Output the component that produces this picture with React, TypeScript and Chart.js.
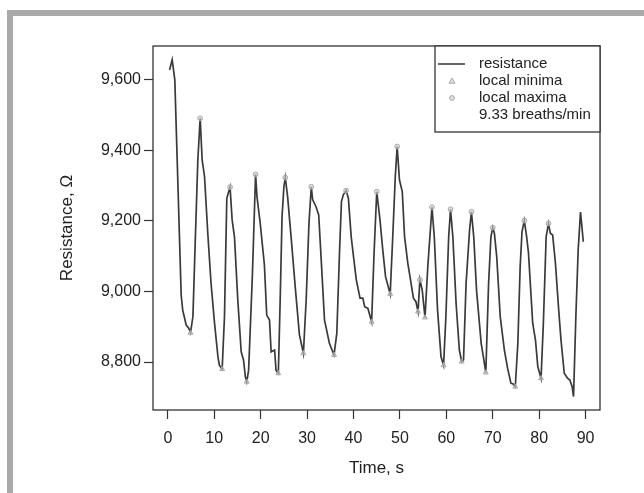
import React, { useEffect, useRef } from "react";
import { Chart, registerables } from "chart.js";

Chart.register(...registerables);

// Time (s) and resistance (Ω) samples
const times: number[] = [
  0.37, 0.93, 1.5, 2.87, 3.2, 3.95, 4.5, 4.88, 5.4, 5.96, 6.46, 6.96, 7.39, 7.9, 8.6, 9.3,
  10.05, 10.8, 11.1, 11.7, 12.2, 12.7, 13.1, 13.4, 13.85, 14.35, 15.07, 15.8, 16.3, 16.7,
  17.0, 17.4, 18.2, 18.9, 19.2, 19.9, 20.8, 21.3, 21.9, 22.25, 23.0, 23.3, 23.8, 24.2, 24.6,
  25.0, 25.3, 25.8, 26.55, 27.5, 28.35, 29.2, 29.8, 30.4, 30.9, 31.2, 31.9, 32.5, 33.0,
  33.75, 34.2, 34.8, 35.8, 36.4, 37.0, 37.4, 37.8, 38.4, 38.9, 39.5, 40.0, 40.6, 41.4, 42.0,
  42.4, 43.1, 43.9, 44.4, 45.0, 45.7, 46.3, 46.9, 47.9, 48.45, 49.0, 49.4, 49.9, 50.5, 51.0,
  51.7, 52.4, 52.9, 53.45, 53.9, 54.3, 54.8, 55.4, 56.0, 56.9, 57.4, 58.1, 58.85, 59.4, 59.9,
  60.5, 60.9, 61.4, 62.1, 62.8, 63.3, 63.7, 64.25, 65.0, 65.4, 65.9, 66.5, 67.5, 68.2, 68.5,
  69.1, 69.6, 70.0, 70.35, 70.85, 71.6, 72.5, 73.2, 73.9, 74.4, 74.85, 75.4, 75.9, 76.3,
  76.8, 77.3, 77.7, 78.6, 79.2, 79.7, 80.4, 80.9, 81.5, 82.0, 82.4, 82.9, 83.5, 84.2, 84.7,
  85.4, 86.1, 86.6, 87.1, 87.4, 87.9, 88.4, 88.9, 89.2, 89.5,
];
const resistance: number[] = [
  9628, 9657, 9600, 8990, 8947, 8905, 8896, 8883, 8929, 9166, 9373, 9491, 9373, 9326, 9166, 9024,
  8911, 8814, 8791, 8780, 8929, 9264, 9283, 9296, 9203, 9155, 8976, 8829, 8806, 8758,
  8744, 8777, 9042, 9332, 9269, 9193, 9075, 8933, 8919, 8829, 8834, 8777, 8768, 8976, 9212,
  9297, 9323, 9269, 9155, 9004, 8877, 8825, 8976, 9193, 9297, 9260, 9241, 9217, 9099,
  8919, 8891, 8853, 8820, 8881, 9118, 9255, 9274, 9286, 9264, 9155, 9099, 9033, 8981, 8981,
  8957, 8952, 8914, 9100, 9283, 9203, 9118, 9042, 8993, 9155, 9326, 9411, 9316, 9283, 9155,
  9080, 9023, 8981, 8971, 8943, 9033, 9004, 8926, 9070, 9239, 9155, 8948, 8815, 8791, 8929,
  9155, 9233, 9155, 8966, 8834, 8801, 8806, 9023, 9174, 9226, 9155, 9004, 8853, 8796, 8770,
  9023, 9155, 9181, 9165, 9099, 8929, 8834, 8782, 8740, 8738, 8730, 8853, 9070, 9170,
  9201, 9155, 9108, 8910, 8862, 8787, 8754, 8910, 9155, 9193, 9165, 9160, 9080, 8948, 8862,
  8768, 8754, 8749, 8730, 8702, 8929, 9118, 9225, 9184, 9141,
];

const minimaTimes: number[] = [4.88, 11.7, 17.0, 23.8, 29.2, 35.8, 43.9, 47.9, 53.9, 55.4, 59.4, 63.3, 68.5, 74.85, 80.4];
const minimaValues: number[] = [8883, 8780, 8744, 8768, 8825, 8820, 8914, 8993, 8943, 8926, 8791, 8801, 8770, 8730, 8754];

const maximaTimes: number[] = [6.96, 13.4, 18.9, 25.3, 30.9, 38.4, 45.0, 49.4, 54.3, 56.9, 60.9, 65.4, 70.0, 76.8, 82.0];
const maximaValues: number[] = [9491, 9296, 9332, 9323, 9297, 9286, 9283, 9411, 9033, 9239, 9233, 9226, 9181, 9201, 9193];

const xTickValues: number[] = [0, 10, 20, 30, 40, 50, 60, 70, 80, 90];
const yTickValues: number[] = [8800, 9000, 9200, 9400, 9600];

const legendLabels: string[] = ["resistance", "local minima", "local maxima", "9.33 breaths/min"];

const FONT = "'Liberation Sans', Arial, Helvetica, sans-serif";
const LINE_COLOR = "#333333";
const MARK_STROKE = "#a8a8a8";
const MARK_FILL = "rgba(205,205,205,0.6)";

const boxPlugin = {
  id: "boxAndLegend",
  afterDraw(chart: any) {
    const { ctx, chartArea } = chart;
    const { left, top, right, bottom } = chartArea;
    ctx.save();
    ctx.strokeStyle = LINE_COLOR;
    ctx.lineWidth = 1.3;
    ctx.strokeRect(left, top, right - left, bottom - top);

    // legend box in top-right corner
    const lw = 165;
    const lh = 86;
    const lx = right - lw;
    const ly = top;
    ctx.fillStyle = "#ffffff";
    ctx.fillRect(lx, ly, lw, lh);
    ctx.strokeRect(lx, ly, lw, lh);

    const rowY = (i: number) => ly + 18 + i * 17;
    const symX = lx + 17;
    const textX = lx + 44;
    // line sample
    ctx.beginPath();
    ctx.strokeStyle = LINE_COLOR;
    ctx.lineWidth = 1.5;
    ctx.moveTo(lx + 3, rowY(0));
    ctx.lineTo(lx + 30, rowY(0));
    ctx.stroke();
    // triangle
    ctx.lineWidth = 1;
    ctx.strokeStyle = MARK_STROKE;
    ctx.fillStyle = MARK_FILL;
    ctx.beginPath();
    const ty = rowY(1);
    ctx.moveTo(symX, ty - 3);
    ctx.lineTo(symX + 3, ty + 2.2);
    ctx.lineTo(symX - 3, ty + 2.2);
    ctx.closePath();
    ctx.fill();
    ctx.stroke();
    // circle
    ctx.beginPath();
    ctx.arc(symX, rowY(2), 2.4, 0, Math.PI * 2);
    ctx.fill();
    ctx.stroke();

    ctx.fillStyle = "#222222";
    ctx.font = `15px ${FONT}`;
    ctx.textBaseline = "middle";
    ctx.textAlign = "left";
    legendLabels.forEach((t, i) => ctx.fillText(t, textX, rowY(i)));
    ctx.restore();
  },
};

export default function App() {
  const canvasRef = useRef<HTMLCanvasElement | null>(null);

  useEffect(() => {
    if (!canvasRef.current) return;
    const chart = new Chart(canvasRef.current, {
      type: "line",
      data: {
        datasets: [
          {
            label: "resistance",
            data: times.map((t, i) => ({ x: t, y: resistance[i] })),
            borderColor: "#3a3a3a",
            borderWidth: 1.7,
            pointRadius: 0,
            tension: 0,
            fill: false,
            order: 2,
          },
          {
            label: "local minima",
            data: minimaTimes.map((t, i) => ({ x: t, y: minimaValues[i] })),
            showLine: false,
            pointStyle: "triangle",
            pointRadius: 2.8,
            pointBorderWidth: 1,
            pointBorderColor: MARK_STROKE,
            pointBackgroundColor: MARK_FILL,
            order: 1,
          },
          {
            label: "local maxima",
            data: maximaTimes.map((t, i) => ({ x: t, y: maximaValues[i] })),
            showLine: false,
            pointStyle: "circle",
            pointRadius: 2.4,
            pointBorderWidth: 1,
            pointBorderColor: MARK_STROKE,
            pointBackgroundColor: MARK_FILL,
            order: 1,
          },
        ],
      },
      options: {
        animation: false,
        responsive: false,
        maintainAspectRatio: false,
        layout: { padding: { left: 0, top: 46, right: 44, bottom: 0 } },
        plugins: { legend: { display: false }, tooltip: { enabled: false } },
        scales: {
          x: {
            type: "linear",
            min: -3.2,
            max: 93.1,
            afterBuildTicks: (scale: any) => {
              scale.ticks = xTickValues.map((v) => ({ value: v }));
            },
            afterFit: (scale: any) => {
              scale.height = 83;
            },
            grid: {
              display: true,
              drawOnChartArea: false,
              drawTicks: true,
              tickLength: 9,
              tickColor: LINE_COLOR,
              tickWidth: 1.2,
            },
            border: { display: false },
            ticks: {
              autoSkip: false,
              maxRotation: 0,
              padding: 10,
              color: "#222222",
              font: { family: FONT, size: 16 },
              callback: (v: any) => String(v),
            },
            title: {
              display: true,
              text: "Time, s",
              color: "#222222",
              font: { family: FONT, size: 17 },
              padding: { top: 0, bottom: 14 },
            },
          },
          y: {
            type: "linear",
            min: 8664,
            max: 9696,
            afterBuildTicks: (scale: any) => {
              scale.ticks = yTickValues.map((v) => ({ value: v }));
            },
            afterFit: (scale: any) => {
              scale.width = 153;
            },
            grid: {
              display: true,
              drawOnChartArea: false,
              drawTicks: true,
              tickLength: 9,
              tickColor: LINE_COLOR,
              tickWidth: 1.2,
            },
            border: { display: false },
            ticks: {
              autoSkip: false,
              padding: 3,
              color: "#222222",
              font: { family: FONT, size: 16 },
              callback: (v: any) => {
                const n = Number(v);
                const th = Math.floor(n / 1000);
                const rest = String(n % 1000).padStart(3, "0");
                return `${th},${rest}`;
              },
            },
            title: {
              display: true,
              text: "Resistance, Ω",
              color: "#222222",
              font: { family: FONT, size: 17 },
              padding: { top: 57, bottom: 0 },
            },
          },
        },
      },
      plugins: [boxPlugin],
    });
    return () => chart.destroy();
  }, []);

  return (
    <div
      style={{
        position: "fixed",
        left: 0,
        top: 0,
        width: 644,
        height: 493,
        background: "#ffffff",
        overflow: "hidden",
      }}
    >
      <div
        style={{
          position: "absolute",
          left: 7,
          top: 10,
          width: 644,
          height: 493,
          borderTop: "6px solid #a9a9ab",
          borderLeft: "6px solid #a9a9ab",
          boxSizing: "border-box",
        }}
      />
      <canvas
        ref={canvasRef}
        width={644}
        height={493}
        style={{ position: "absolute", left: 0, top: 0, width: 644, height: 493 }}
      />
    </div>
  );
}
